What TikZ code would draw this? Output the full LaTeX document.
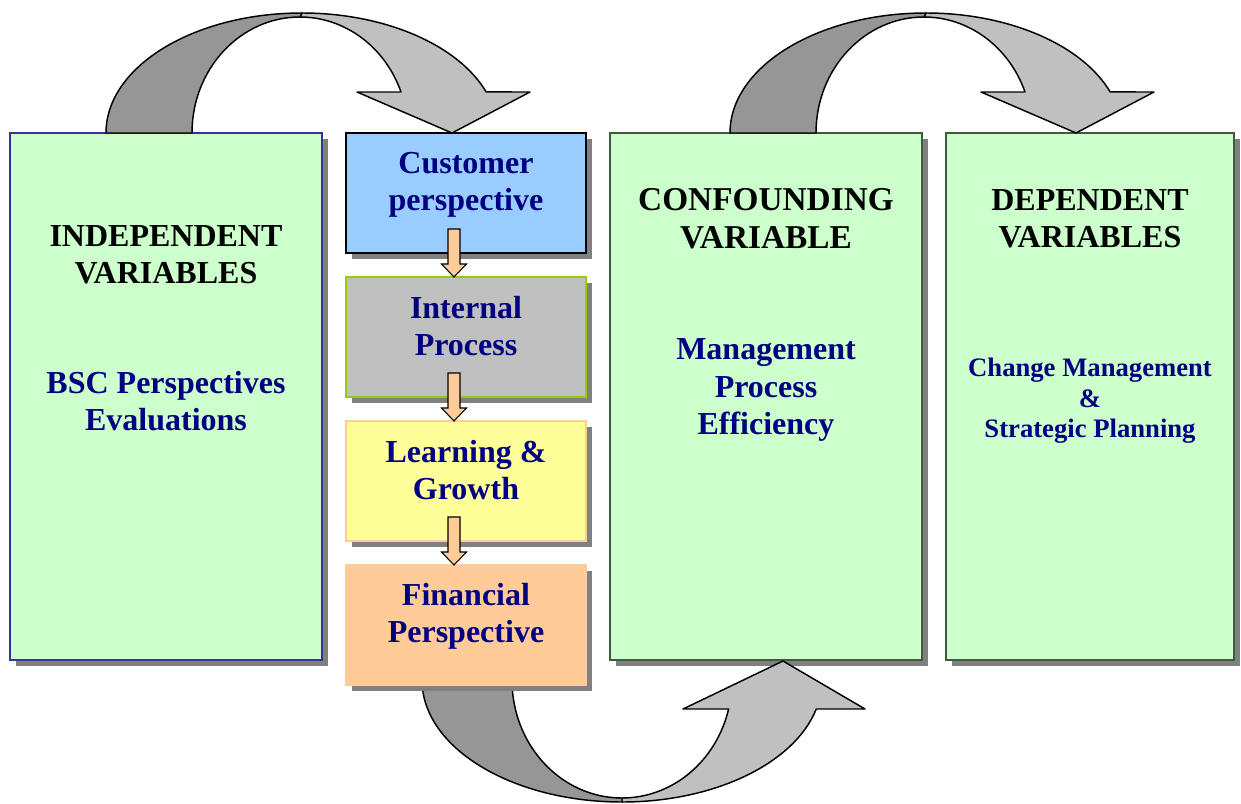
\documentclass[tikz,border=0pt]{standalone}
\usepackage{fontspec}
\setmainfont{Liberation Serif}
\usetikzlibrary{shadows,calc}
\definecolor{gfill}{HTML}{CCFFCC}
\definecolor{custfill}{HTML}{99CCFF}
\definecolor{intfill}{HTML}{C0C0C0}
\definecolor{intline}{HTML}{99CC00}
\definecolor{learnfill}{HTML}{FFFF99}
\definecolor{learnline}{HTML}{FFCC99}
\definecolor{finfill}{HTML}{FFCC99}
\definecolor{navytxt}{HTML}{000080}
\definecolor{shadowc}{HTML}{808080}
\definecolor{darkband}{HTML}{969696}
\definecolor{lightband}{HTML}{C0C0C0}
\definecolor{indline}{HTML}{333399}
\definecolor{grline}{HTML}{3F5A3F}
\definecolor{arrowc}{HTML}{FFCC99}
\begin{document}
\begin{tikzpicture}[x=0.75pt,y=-0.75pt,
  boxbase/.style={rectangle, inner sep=0pt, outer sep=0pt, anchor=north west,
     general shadow={fill=shadowc, shadow xshift=4.5pt, shadow yshift=-4.5pt}},
  bigbox/.style={boxbase, minimum width=#1, minimum height=395.25pt},
  smallbox/.style={boxbase, minimum width=180pt, minimum height=90pt},
  txt/.style={font=\bfseries\fontsize{24}{28}\selectfont, align=center, text=navytxt},
  head/.style={font=\bfseries\fontsize{24}{28}\selectfont, align=center, text=black},
  smalltxt/.style={font=\bfseries\fontsize{20}{23}\selectfont, align=center, text=navytxt},
  bandline/.style={draw=black, line width=1.1pt, line join=round},
  downarr/.pic={\filldraw[fill=arrowc, draw=black, line width=0.8pt]
     (0,0) -- (-12.5,-13) -- (-6,-13) -- (-6,-48) -- (6,-48) -- (6,-13) -- (12.5,-13) -- cycle;},
  toparr/.pic={
    \filldraw[bandline, fill=lightband] (302,13)
       arc[start angle=270, end angle=340, x radius=196, y radius=120]
       -- (530,92) -- (452,133) -- (357,92) -- (401,92)
       arc[start angle=339.3, end angle=270, x radius=108, y radius=116] -- cycle;
    \filldraw[bandline, fill=darkband] (106,133)
       arc[start angle=180, end angle=270, x radius=196, y radius=120]
       -- (300,17)
       arc[start angle=270, end angle=180, x radius=108, y radius=116] -- cycle;
  }]
\useasboundingbox (0,0) rectangle (1241,803);

% big green boxes
\node[bigbox=234pt, fill=gfill, draw=indline, line width=0.8pt] (indep) at (10,133) {};
\node[bigbox=234pt, fill=gfill, draw=grline, line width=0.8pt] (conf) at (610,133) {};
\node[bigbox=216pt, fill=gfill, draw=grline, line width=0.8pt] (dep) at (946,133) {};

% perspective boxes
\node[smallbox, fill=custfill, draw=black, line width=1.5pt] (cust) at (346,133) {};
\node[smallbox, fill=intfill, draw=intline, line width=1.5pt] (intern) at (346,277) {};
\node[smallbox, fill=learnfill, draw=learnline, line width=1.5pt] (learn) at (346,421) {};

% bottom curved arrow (behind the financial box)
\filldraw[bandline, fill=lightband] (622,802)
   arc[start angle=90, end angle=13.75, x radius=200, y radius=122]
   -- (865,709) -- (783,661) -- (683,709) -- (728.6,709)
   arc[start angle=14.23, end angle=90, x radius=110, y radius=118] -- cycle;
\filldraw[bandline, fill=darkband] (422,680)
   arc[start angle=180, end angle=90, x radius=200, y radius=122]
   -- (622,798)
   arc[start angle=90, end angle=180, x radius=110, y radius=118] -- cycle;

\node[smallbox, fill=finfill, draw=finfill, line width=0.8pt] (fin) at (346,565) {};

% top curved arrows
\pic at (0,0) {toparr};
\pic at (624,0) {toparr};

% small connecting arrows
\pic at ([xshift=-9pt]intern.north) {downarr};
\pic at ([xshift=-9pt]learn.north) {downarr};
\pic at ([xshift=-9pt]fin.north) {downarr};

% texts
\node[head] (indephead) at (166,255) {INDEPENDENT\\VARIABLES};
\node[txt] (indeptxt) at (166,401) {BSC Perspectives\\Evaluations};
\node[txt] (custtxt) at (466,185) {Customer\\perspective};
\node[txt] (inttxt) at (466,326) {Internal\\Process};
\node[txt] (learntxt) at (466,470) {Learning \&\\Growth};
\node[txt] (fintxt) at (466,616) {Financial\\Perspective};
\node[head, font=\bfseries\fontsize{25}{28.5}\selectfont] (confhead) at (766,219) {CONFOUNDING\\VARIABLE};
\node[txt] (conftxt) at (766,390) {Management\\Process\\Efficiency};
\node[head] (dephead) at (1090,219) {DEPENDENT\\VARIABLES};
\node[smalltxt] (deptxt) at (1090,401) {Change Management\\\&\\Strategic Planning};
\end{tikzpicture}
\end{document}
